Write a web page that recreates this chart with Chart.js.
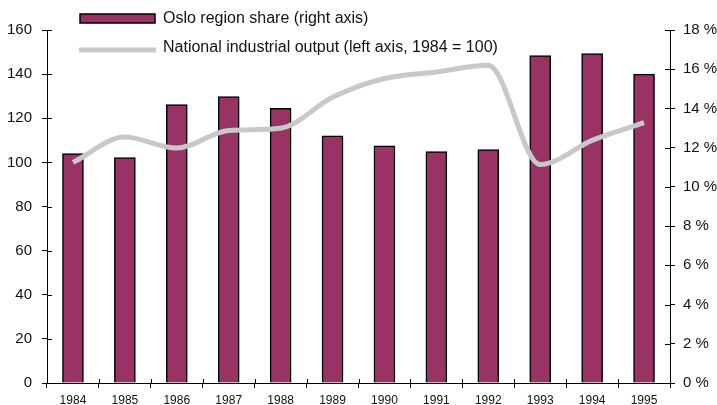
<!DOCTYPE html>
<html>
<head>
<meta charset="utf-8">
<script src="https://cdn.jsdelivr.net/npm/chart.js@4"></script>
<style>
  html, body { margin: 0; padding: 0; background: #fff; }
  #wrap { width: 717px; height: 405px; position: relative; }
</style>
</head>
<body>
<div id="wrap"><canvas id="combo"></canvas></div>
<script>
const years = ["1984", "1985", "1986", "1987", "1988", "1989", "1990", "1991", "1992", "1993", "1994", "1995"];
// Oslo region share of national output, percent (right axis)
const osloShare = [11.7, 11.5, 14.2, 14.6, 14.0, 12.6, 12.1, 11.8, 11.9, 16.7, 16.8, 15.75];
// National industrial output index, 1984 = 100 (left axis)
const nationalOutput = [100, 111.5, 106.5, 114.5, 115.5, 129.5, 138, 141, 144, 99, 110, 118];
const leftTicks = [0, 20, 40, 60, 80, 100, 120, 140, 160];
const rightTicks = [0, 2, 4, 6, 8, 10, 12, 14, 16, 18];

const barLabel = "Oslo region share (right axis)";
const lineLabel = "National industrial output (left axis, 1984 = 100)";

const FONT = "'Liberation Sans', Arial, sans-serif";
const BAR_COLOR = "#993366";
const LINE_COLOR = "#c8c8c8";

// legend drawn over the plot, like the original
const legendPlugin = {
  id: "overlayLegend",
  afterDraw(chart) {
    const ctx = chart.ctx;
    ctx.save();
    ctx.fillStyle = BAR_COLOR;
    ctx.strokeStyle = "#000";
    ctx.lineWidth = 1.5;
    ctx.fillRect(80, 14, 75, 9);
    ctx.strokeRect(80, 14, 75, 9);
    ctx.strokeStyle = LINE_COLOR;
    ctx.lineWidth = 5;
    ctx.beginPath();
    ctx.moveTo(79, 50);
    ctx.lineTo(156, 50);
    ctx.stroke();
    ctx.fillStyle = "#111";
    ctx.font = "16px " + FONT;
    ctx.textBaseline = "middle";
    ctx.fillText(barLabel, 163, 19);
    ctx.fillText(lineLabel, 163, 48);
    ctx.restore();
  },
};

// small inward halves of the tick marks so they cross the axes
const innerTicks = {
  id: "innerTicks",
  afterDraw(chart) {
    const ctx = chart.ctx;
    const { left, right, bottom } = chart.chartArea;
    const s = chart.scales;
    ctx.save();
    ctx.strokeStyle = "#000";
    ctx.lineWidth = 1;
    ctx.beginPath();
    leftTicks.forEach((v) => {
      const y = Math.round(s.y.getPixelForValue(v)) + 0.5;
      ctx.moveTo(left, y);
      ctx.lineTo(left + 5, y);
    });
    rightTicks.forEach((v) => {
      const y = Math.round(s.y1.getPixelForValue(v)) + 0.5;
      ctx.moveTo(right, y);
      ctx.lineTo(right - 5, y);
    });
    for (let i = 0; i <= years.length; i++) {
      const x = Math.round(left + (right - left) * i / years.length) + 0.5;
      ctx.moveTo(x, bottom);
      ctx.lineTo(x, bottom - 4);
    }
    ctx.stroke();
    ctx.restore();
  },
};

const data = {
  labels: years,
  datasets: [
    {
      type: "line",
      label: lineLabel,
      data: nationalOutput,
      yAxisID: "y",
      borderColor: LINE_COLOR,
      borderWidth: 5,
      pointRadius: 0,
      cubicInterpolationMode: "monotone",
      fill: false,
      order: 0,
    },
    {
      type: "bar",
      label: barLabel,
      data: osloShare,
      yAxisID: "y1",
      backgroundColor: BAR_COLOR,
      borderColor: "#000",
      borderWidth: 1.5,
      barThickness: 21,
      order: 1,
    },
  ],
};

new Chart(document.getElementById("combo").getContext("2d"), {
  data,
  plugins: [legendPlugin, innerTicks],
  options: {
    responsive: true,
    maintainAspectRatio: false,
    animation: { duration: 0 },
    layout: { padding: { top: 30, right: 0, bottom: 0, left: 0 } },
    plugins: {
      legend: { display: false },
      tooltip: { enabled: false },
    },
    scales: {
      x: {
        offset: true,
        grid: { display: true, drawOnChartArea: false, offset: true, tickLength: 5, color: "#000" },
        border: { display: true, color: "#000", width: 1 },
        ticks: { color: "#111", font: { family: FONT, size: 12 }, padding: 5, maxRotation: 0 },
        afterFit(axis) { axis.height = 22; },
      },
      y: {
        position: "left",
        min: 0,
        max: 160,
        grid: { drawOnChartArea: false, tickLength: 5, color: "#000" },
        border: { display: true, color: "#000", width: 1 },
        ticks: { stepSize: 20, color: "#111", font: { family: FONT, size: 15 }, padding: 10 },
        afterFit(axis) { axis.width = 47; },
      },
      y1: {
        position: "right",
        min: 0,
        max: 18,
        grid: { drawOnChartArea: false, tickLength: 5, color: "#000" },
        border: { display: true, color: "#000", width: 1 },
        ticks: {
          stepSize: 2,
          color: "#111",
          font: { family: FONT, size: 15 },
          padding: 8,
          callback: (v) => v + " %",
        },
        afterFit(axis) { axis.width = 47; },
      },
    },
  },
});
</script>
</body>
</html>
